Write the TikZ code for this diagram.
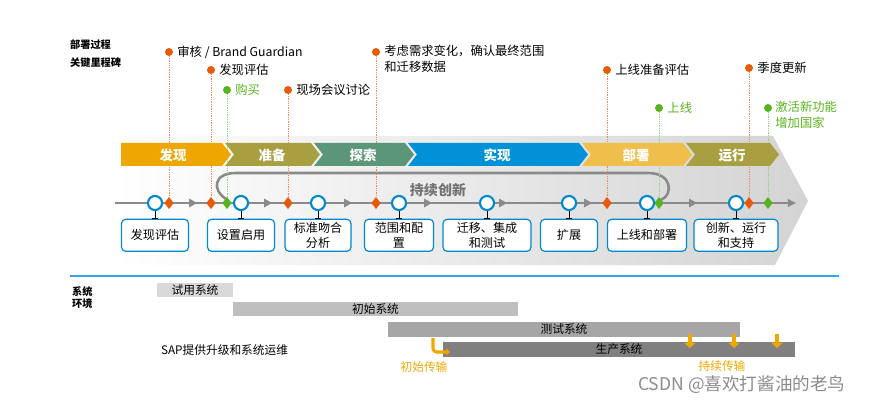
\documentclass[tikz,border=0pt]{standalone}
\usepackage{fontspec}
\setmainfont{Noto Sans CJK SC}
\usepackage{tikz}
\usetikzlibrary{
  arrows.meta,
  positioning,
  shapes.geometric
}
\definecolor{phasegold}{RGB}{240,166,0}
\definecolor{phaseolive}{RGB}{168,160,64}
\definecolor{phaseteal}{RGB}{92,150,120}
\definecolor{phaseblue}{RGB}{0,145,215}
\definecolor{phasesand}{RGB}{240,190,75}
\definecolor{mileorange}{RGB}{230,90,10}
\definecolor{milegreen}{RGB}{88,180,30}
\definecolor{stageblue}{RGB}{0,136,208}
\definecolor{linegray}{RGB}{138,138,138}
\definecolor{sepblue}{RGB}{50,170,225}
\definecolor{transorange}{RGB}{240,168,0}

\begin{document}
\begin{tikzpicture}[
    x=0.03cm, y=-0.03cm,
    phaselabel/.style={font=\fontsize{11.5}{12}\selectfont\bfseries, text=white},
    mdot/.style={circle, fill=mileorange, minimum size=6.8pt, inner sep=0pt},
    gdot/.style={circle, fill=milegreen, minimum size=6.8pt, inner sep=0pt},
    mdiamond/.style={diamond, fill=mileorange, minimum width=8pt,
                     minimum height=10.5pt, inner sep=0pt},
    gdiamond/.style={diamond, fill=milegreen, minimum width=8pt,
                     minimum height=10.5pt, inner sep=0pt},
    mlabel/.style={font=\fontsize{10.5}{13.5}\selectfont, inner sep=1pt},
    mdrop/.style={densely dotted, mileorange!70, line width=0.5pt},
    gdrop/.style={densely dotted, milegreen!60, line width=0.5pt},
    gate/.style={circle, draw=stageblue, fill=white, line width=1.8pt,
                 minimum size=12pt, inner sep=0pt},
    stagebox/.style={draw=stageblue, fill=white, line width=1pt,
                     rounded corners=3.5pt, minimum height=0.96cm,
                     align=center, inner sep=1pt,
                     font=\fontsize{10.3}{13}\selectfont},
    ibeam/.style={line width=0.8pt, -{Bar[width=4.5pt]}},
    sysbar/.style={minimum height=0.43cm, inner sep=0pt,
                   font=\fontsize{10}{12}\selectfont},
    transarrow/.style={transorange, line width=2.6pt},
    sidehead/.style={font=\fontsize{8.7}{10}\selectfont\bfseries, anchor=west},
    >=Stealth
  ]

  \useasboundingbox (0,0) rectangle (881,400);

  %% Background arrow
  \shade[left color=white, right color=black!17]
    (115,136) -- (773,136) -- (808,201) -- (775,265) -- (115,265) -- cycle;

  %% Headings
  \node[sidehead] (hproc) at (66,45) {部署过程};
  \node[sidehead] (hmile) at (66,63) {关键里程碑};

  %% Innovation loop
  \coordinate (loopa) at (226,199);
  \coordinate (loopb) at (661,200);
  \draw[linegray, line width=2.2pt]
    (loopa) .. controls (212,190) and (213,173) .. (236,173)
    -- (648,173) .. controls (673,173) and (673,195) .. (loopb);
  \node[font=\fontsize{12}{14}\selectfont\bfseries, text=black!55]
    (loop) at (438,190) {持续创新};

  %% Time line
  \coordinate (tlstart) at (115,203);
  \coordinate (tlend) at (796,203);
  \draw[linegray, line width=1.7pt, -{Triangle[length=7pt,width=6.5pt]}]
    (tlstart) -- (tlend);
  \foreach \x in {193,268,348,428,503,588,693}
    \fill[linegray] (\x-4,198.5) -- (\x+4,203) -- (\x-4,207.5) -- cycle;

  %% Milestones above the line
  \node[mdot] (d1) at (169,52) {};
  \node[mdot] (d2) at (211,70) {};
  \node[gdot] (d3) at (227,90) {};
  \node[mdot] (d4) at (288,90) {};
  \node[mdot] (d5) at (376,52) {};
  \node[mdot] (d6) at (607,70) {};
  \node[gdot] (d7) at (659,108) {};
  \node[mdot] (d8) at (749,68) {};
  \node[gdot] (d9) at (768,108) {};

  \node[mlabel, right=6pt] (l1) at (d1) {审核 / Brand Guardian};
  \node[mlabel, right=6pt] (l2) at (d2) {发现评估};
  \node[mlabel, right=6pt, text=milegreen] (l3) at (d3) {购买};
  \node[mlabel, right=6pt] (l4) at (d4) {现场会议讨论};
  \node[mlabel, align=left, anchor=north west] (l5) at (383,44)
    {考虑需求变化，确认最终范围\\和迁移数据};
  \node[mlabel, right=6pt] (l6) at (d6) {上线准备评估};
  \node[mlabel, right=6pt, text=milegreen] (l7) at (d7) {上线};
  \node[mlabel, right=6pt] (l8) at (d8) {季度更新};
  \node[mlabel, align=left, anchor=north west, text=milegreen] (l9)
    at (774,100) {激活新功能\\增加国家};

  %% Diamonds on the line
  \node[mdiamond] (k1) at (169,203) {};
  \node[mdiamond] (k2) at (211,203) {};
  \node[gdiamond] (k3) at (227,203) {};
  \node[mdiamond] (k4) at (288,203) {};
  \node[mdiamond] (k5) at (376,203) {};
  \node[mdiamond] (k6) at (607,203) {};
  \node[gdiamond] (k7) at (659,203) {};
  \node[mdiamond] (k8) at (749,203) {};
  \node[gdiamond] (k9) at (768,203) {};

  \foreach \i in {1,2,4,5,6,8}
    \draw[mdrop] (d\i) -- (k\i);
  \foreach \i in {3,7,9}
    \draw[gdrop] (d\i) -- (k\i);

  %% Phases
  \fill[phasegold] (121,143) -- (222,143) -- (231,154.5) -- (222,166)
    -- (121,166) -- cycle;
  \foreach \xa/\xb/\col in {225/311/phaseolive, 314/405/phaseteal,
                            408/579/phaseblue, 582/683/phasesand,
                            686/770/phaseolive}
    \fill[\col] (\xa,143) -- (\xb,143) -- (\xb+9,154.5) -- (\xb,166)
      -- (\xa,166) -- (\xa+9,154.5) -- cycle;

  \node[phaselabel] (p1) at (173,155) {发现};
  \node[phaselabel] (p2) at (272,155) {准备};
  \node[phaselabel] (p3) at (363,155) {探索};
  \node[phaselabel] (p4) at (497,155) {实现};
  \node[phaselabel] (p5) at (636,155) {部署};
  \node[phaselabel] (p6) at (732,155) {运行};

  %% Stages
  \node[gate] (c1) at (155,203) {};
  \node[gate] (c2) at (241,203) {};
  \node[gate] (c3) at (318,203) {};
  \node[gate] (c4) at (399,203) {};
  \node[gate] (c5) at (487,203) {};
  \node[gate] (c6) at (569,203) {};
  \node[gate] (c7) at (647,203) {};
  \node[gate] (c8) at (736,203) {};

  \node[stagebox, minimum width=2.01cm, below=6.5pt of c1] (b1) {发现评估};
  \node[stagebox, minimum width=2.01cm, below=6.5pt of c2] (b2) {设置启用};
  \node[stagebox, minimum width=1.98cm, below=6.5pt of c3] (b3) {标准吻合\\分析};
  \node[stagebox, minimum width=2.07cm, below=6.5pt of c4] (b4) {范围和配\\置};
  \node[stagebox, minimum width=2.64cm, below=6.5pt of c5] (b5) {迁移、集成\\和测试};
  \node[stagebox, minimum width=1.71cm, below=6.5pt of c6] (b6) {扩展};
  \node[stagebox, minimum width=2.37cm, below=6.5pt of c7] (b7) {上线和部署};
  \node[stagebox, minimum width=2.52cm, below=6.5pt of c8] (b8) {创新、运行\\和支持};

  \foreach \i in {1,...,8}
    \draw[ibeam] (c\i.south) -- (b\i.north);

  %% Separator
  \draw[sepblue, line width=1.3pt] (70,276) -- (839,276);

  %% System landscape
  \node[sidehead] (hsys) at (68,292) {系统};
  \node[sidehead] (henv) at (68,304) {环境};

  \node[sysbar, fill=black!15, minimum width=2.28cm] (s1) at (195,290) {试用系统};
  \node[sysbar, fill=black!25, minimum width=8.55cm] (s2) at (375.5,309) {初始系统};
  \node[sysbar, fill=black!35, minimum width=10.56cm] (s3) at (564,329.5) {测试系统};
  \node[sysbar, fill=black!50, minimum width=10.56cm] (s4) at (619,349.5) {生产系统};

  \node[font=\fontsize{10}{12}\selectfont, anchor=west] (sap) at (157,350)
    {SAP提供升级和系统运维};

  %% Transports
  \coordinate (ta) at (433,338);
  \coordinate (tb) at (450,352);
  \draw[transarrow, rounded corners=3pt, -{Triangle[length=3pt,width=5.5pt]}]
    (ta) |- (tb);
  \node[font=\fontsize{10}{12}\selectfont, text=transorange] (tfirst)
    at (424,367) {初始传输};

  \foreach \x in {690,734,777} {
    \coordinate (du\x) at (\x,334);
    \coordinate (dd\x) at (\x,348);
    \draw[transorange, line width=4pt, -{Triangle[length=4.5pt,width=9.5pt]}]
      (du\x) -- (dd\x);
  }
  \node[font=\fontsize{10}{12}\selectfont, text=transorange] (tcont)
    at (722,366) {持续传输};

  %% Watermark
  \node[font=\fontsize{15}{17}\selectfont, text=black!45, anchor=west]
    (mark) at (634,385) {CSDN @喜欢打酱油的老鸟};

\end{tikzpicture}
\end{document}
